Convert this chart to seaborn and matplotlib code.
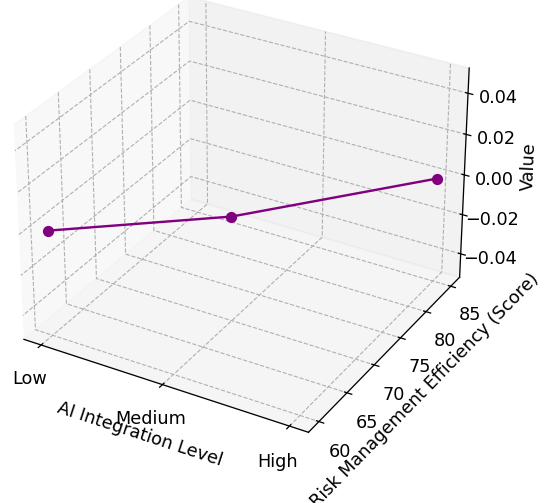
import numpy as np
import pandas as pd
import matplotlib
matplotlib.use("Agg")
import matplotlib.pyplot as plt
import seaborn as sns

# data
levels = ["Low", "Medium", "High"]
efficiency = [60, 70, 85]
values = [0, 0, 0]

df = pd.DataFrame({"level": levels, "efficiency": efficiency, "value": values})
df["x"] = np.arange(len(levels))

line_color = sns.color_palette(["purple"])[0]

plt.rcParams["grid.linestyle"] = "--"
plt.rcParams["grid.linewidth"] = 0.7
plt.rcParams["font.size"] = 11

fig = plt.figure(figsize=(557 / 115, 503 / 115), dpi=115)
ax = fig.add_axes([-0.046, 0.077, 0.95, 1.007], projection="3d")

ax.plot(df["x"], df["efficiency"], df["value"], color=line_color, marker="o")

ax.set_xticks(df["x"])
ax.set_xticklabels(levels)
ax.set_xlabel("AI Integration Level", labelpad=1)
ax.set_ylabel("Risk Management Efficiency (Score)", labelpad=1)
ax.set_zlabel("Value")

fig.savefig("out.png", dpi=115)
plt.close(fig)
